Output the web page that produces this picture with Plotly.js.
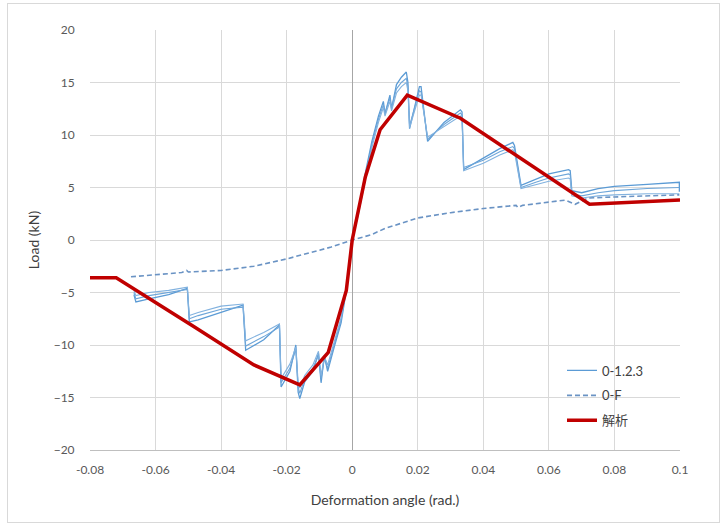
<!DOCTYPE html>
<html>
<head>
<meta charset="utf-8">
<script src="https://cdn.plot.ly/plotly-3.0.1.min.js"></script>
<style>
  html, body { margin: 0; padding: 0; background: #fff; }
  #wrap { position: relative; width: 726px; height: 528px; }
  #chart { width: 726px; height: 528px; }
  #frame { position: absolute; left: 7px; top: 3px; width: 711px; height: 518px; border: 1px solid #d9d9d9; pointer-events: none; }
</style>
</head>
<body>
<div id="wrap"><div id="chart"></div><div id="frame"></div></div>
<script>
// ---- Data ----
// Specimen 0-1 (outer envelope)
const test1X = [-0.0666,-0.066,-0.062,-0.056,-0.0503,-0.0497,-0.047,-0.040,-0.0333,-0.0325,-0.027,-0.0222,-0.0217,-0.019,-0.0172,-0.0165,-0.016,-0.0145,-0.012,-0.0103,-0.0095,-0.0085,-0.0075,-0.0055,-0.0034,-0.0018,0,
                0.002,0.004,0.006,0.008,0.0095,0.010,0.0115,0.012,0.0135,0.015,0.0165,0.017,0.0175,0.0205,0.021,0.023,0.028,0.033,0.0335,0.034,0.040,0.045,0.049,0.0495,0.0515,0.056,0.060,0.066,0.0665,0.067,0.070,0.075,0.080,0.090,0.0998,0.0998];
const test1Y = [-5.2,-5.9,-5.6,-5.2,-4.6,-7.8,-7.6,-6.9,-6.2,-10.5,-9.5,-8.1,-14.0,-12.5,-10.0,-14.5,-15.1,-13.5,-12.5,-10.8,-13.6,-11.0,-12.5,-10.2,-7.9,-4.8,0,
                3.0,6.4,9.4,11.8,13.2,12.0,13.8,12.5,14.8,15.5,16.0,15.0,10.6,14.6,14.6,9.4,11.2,12.4,12.2,6.7,7.8,8.7,9.3,9.0,5.2,5.8,6.3,6.7,6.6,4.7,4.5,4.9,5.1,5.3,5.5,4.6];
// Specimen 0-2
const test2X = [-0.0666,-0.066,-0.062,-0.056,-0.0503,-0.0497,-0.047,-0.040,-0.0333,-0.0325,-0.027,-0.0222,-0.0217,-0.019,-0.0172,-0.0165,-0.016,-0.0145,-0.012,-0.0103,-0.0095,-0.0085,-0.0075,-0.0055,-0.0034,-0.0018,0,
                0.002,0.004,0.006,0.008,0.0095,0.010,0.0115,0.012,0.0135,0.015,0.0165,0.017,0.0175,0.0205,0.021,0.023,0.028,0.033,0.0335,0.034,0.040,0.045,0.049,0.0495,0.0515,0.056,0.060,0.066,0.0665,0.067,0.070,0.075,0.080,0.090,0.0998];
const test2Y = [-5.0,-5.6,-5.3,-5.0,-4.7,-7.5,-7.2,-6.6,-6.4,-10.1,-9.2,-8.3,-13.6,-12.2,-10.4,-14.0,-14.6,-13.2,-12.2,-11.0,-13.2,-11.3,-12.2,-10.0,-7.6,-4.6,0,
                2.8,6.1,9.1,11.5,12.9,12.1,13.5,12.6,14.4,15.0,15.4,14.6,10.9,14.2,14.1,9.6,11.0,12.1,11.9,6.9,7.6,8.4,8.9,8.7,5.0,5.5,5.9,6.3,6.2,4.4,4.2,4.5,4.7,4.9,5.0];
// Specimen 0-3
const test3X = [-0.0666,-0.066,-0.062,-0.056,-0.0503,-0.0497,-0.047,-0.040,-0.0333,-0.0325,-0.027,-0.0222,-0.0217,-0.019,-0.0172,-0.0165,-0.016,-0.0145,-0.012,-0.0103,-0.0095,-0.0085,-0.0075,-0.0055,-0.0034,-0.0018,0,
                0.002,0.004,0.006,0.008,0.0095,0.010,0.0115,0.012,0.0135,0.015,0.0165,0.017,0.0175,0.0205,0.021,0.023,0.028,0.033,0.0335,0.034,0.040,0.045,0.049,0.0495,0.0515,0.056,0.060,0.066,0.0665,0.067,0.070,0.075,0.080,0.090,0.0998];
const test3Y = [-4.8,-5.3,-5.0,-4.8,-4.5,-7.2,-6.9,-6.3,-6.1,-9.6,-8.8,-8.0,-13.2,-11.8,-10.2,-13.6,-14.1,-12.9,-11.9,-10.6,-12.9,-11.1,-11.9,-9.8,-7.4,-4.4,0,
                2.6,5.8,8.8,11.2,12.6,11.8,13.2,12.3,14.0,14.6,15.0,14.2,10.7,13.8,13.8,9.8,10.8,11.8,11.6,6.6,7.3,8.1,8.6,8.4,4.9,5.3,5.6,5.9,5.8,4.2,4.0,4.2,4.3,4.4,4.4];
// 0-F (dashed)
const testFX = [-0.0675,-0.060,-0.052,-0.0505,-0.050,-0.040,-0.030,-0.020,-0.010,-0.0064,0,0.0058,0.010,0.020,0.030,0.040,0.050,0.0505,0.052,0.060,0.065,0.068,0.072,0.080,0.090,0.0998];
const testFY = [-3.5,-3.3,-3.1,-2.9,-3.05,-2.9,-2.5,-1.8,-1.0,-0.67,0,0.5,1.1,2.1,2.6,3.0,3.3,3.1,3.3,3.6,3.8,3.4,4.0,4.1,4.2,4.3];
// 解析 (analysis)
const anaX = [-0.080,-0.072,-0.048,-0.030,-0.016,-0.0073,-0.0018,0,0.004,0.0085,0.0168,0.033,0.0724,0.100];
const anaY = [-3.6,-3.6,-8.3,-11.9,-13.8,-10.7,-4.8,0,6.0,10.5,13.8,11.6,3.4,3.8];

const xTicks = [-0.08,-0.06,-0.04,-0.02,0,0.02,0.04,0.06,0.08,0.1];
const xTickText = ['-0.08','-0.06','-0.04','-0.02','0','0.02','0.04','0.06','0.08','0.1'];
const yTicks = [-20,-15,-10,-5,0,5,10,15,20];

const blue = '#5b9bd5';
const traces = [
  {x: test1X, y: test1Y, mode: 'lines', name: '0-1.2.3', line: {color: blue, width: 1.3}, legendgroup: 't', showlegend: true},
  {x: test2X, y: test2Y, mode: 'lines', name: '0-2', line: {color: '#6ea6d9', width: 1.1}, legendgroup: 't', showlegend: false},
  {x: test3X, y: test3Y, mode: 'lines', name: '0-3', line: {color: '#82b2df', width: 1.1}, legendgroup: 't', showlegend: false},
  {x: testFX, y: testFY, mode: 'lines', name: '0-F', line: {color: '#6a93c4', width: 1.6, dash: '5px,3px'}, legendgroup: 'f'},
  {x: anaX, y: anaY, mode: 'lines', name: '解析', line: {color: '#c00000', width: 3.5}, legendgroup: 'a'}
];

const layout = {
  width: 726, height: 528,
  margin: {l: 90, r: 46, t: 30, b: 78},
  paper_bgcolor: '#ffffff', plot_bgcolor: '#ffffff',
  font: {family: 'Lato, "Noto Sans CJK JP", sans-serif', size: 12, color: '#595959'},
  showlegend: true,
  legend: {x: 0.80, y: 0.225, xanchor: 'left', yanchor: 'top', bgcolor: 'rgba(0,0,0,0)',
           font: {family: 'Lato, "Noto Sans CJK JP", sans-serif', size: 13, color: '#404040'},
           tracegroupgap: 5, itemwidth: 30},
  xaxis: {
    range: [-0.08, 0.1], tickvals: xTicks, ticktext: xTickText,
    showgrid: true, gridcolor: '#d9d9d9', gridwidth: 1,
    zeroline: true, zerolinecolor: '#a6a6a6', zerolinewidth: 1,
    showline: true, linecolor: '#bfbfbf', linewidth: 1, mirror: false,
    ticks: 'outside', ticklen: 9, tickcolor: 'rgba(0,0,0,0)', tickfont: {size: 12, color: '#595959'},
    title: {text: 'Deformation angle (rad.)', font: {size: 14, color: '#404040'}, standoff: 18}
  },
  yaxis: {
    range: [-20, 20], tickvals: yTicks,
    showgrid: true, gridcolor: '#d9d9d9', gridwidth: 1,
    zeroline: false, showline: false,
    ticks: 'outside', ticklen: 12, tickcolor: 'rgba(0,0,0,0)', tickfont: {size: 12, color: '#595959'},
    title: {text: 'Load (kN)', font: {size: 14, color: '#404040'}, standoff: 10}
  }
};

Plotly.newPlot('chart', traces, layout, {displayModeBar: false, staticPlot: true});
</script>
</body>
</html>
